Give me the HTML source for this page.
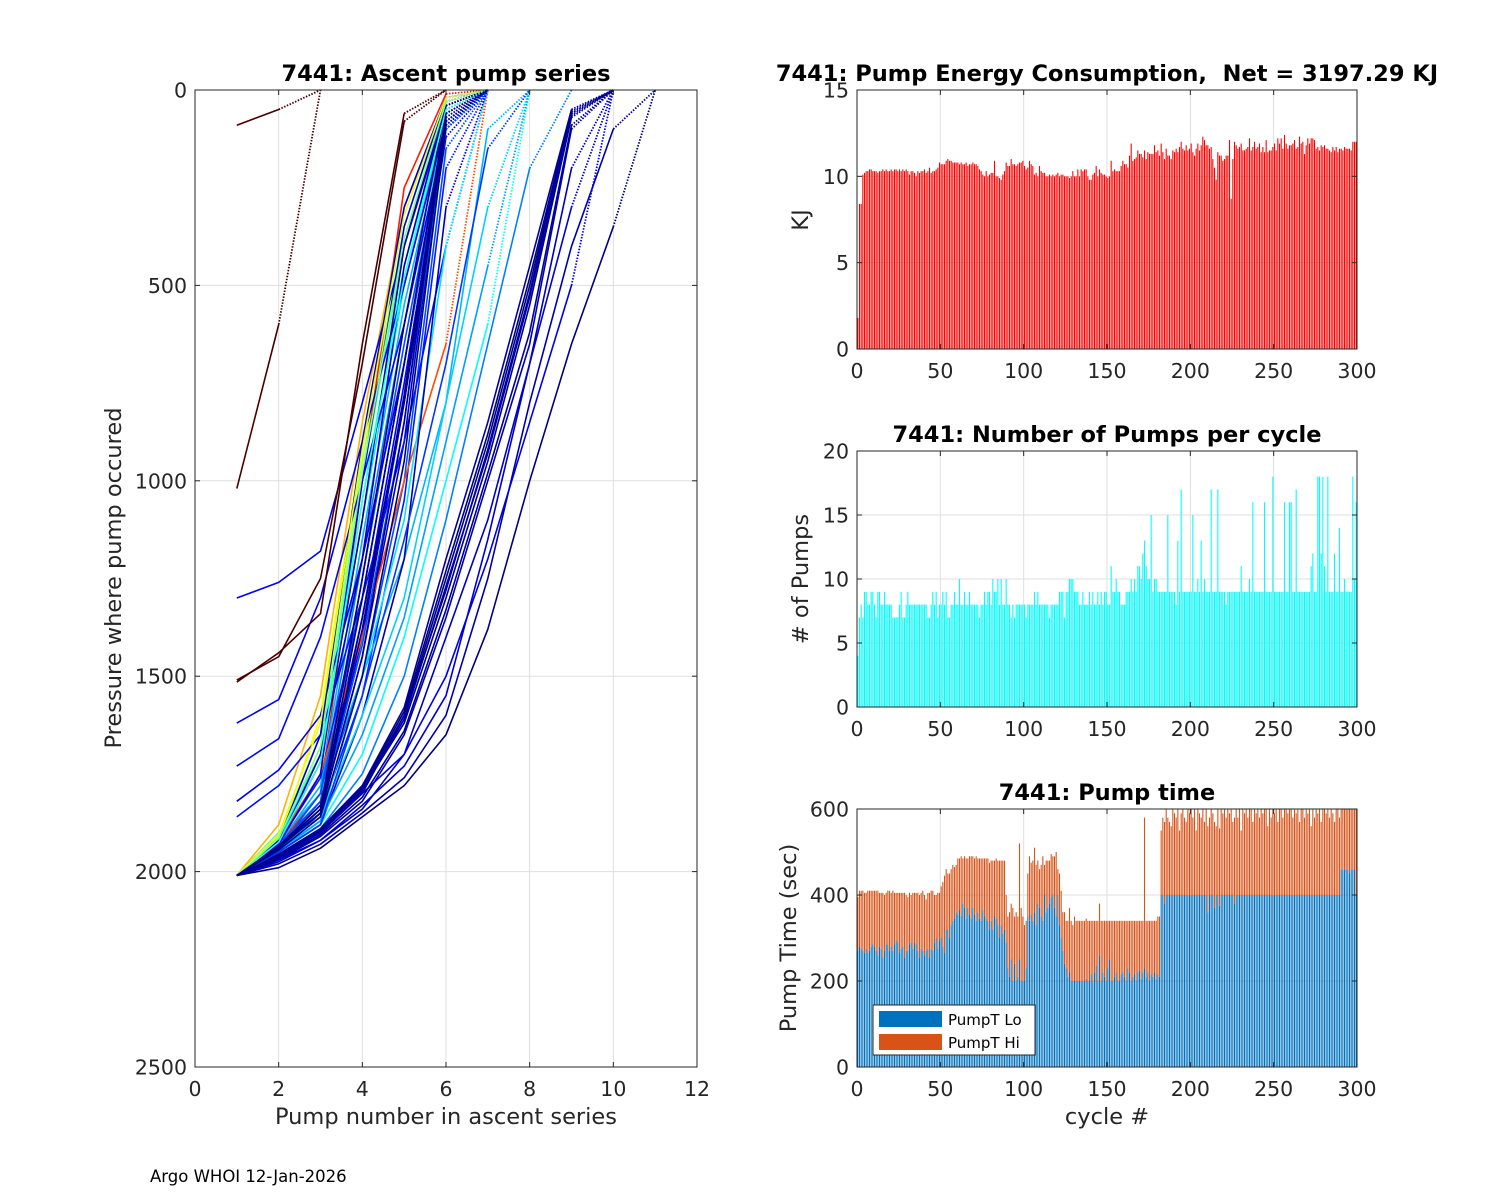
<!DOCTYPE html>
<html><head><meta charset="utf-8"><style>
html,body{margin:0;padding:0;background:#fff}
svg{display:block;font-family:"DejaVu Sans","Liberation Sans",sans-serif}
text{white-space:pre}
</style></head><body>
<svg id="fig" width="1500" height="1200" viewBox="0 0 1500 1200">
<rect x="0" y="0" width="1500" height="1200" fill="#fff"/>
<g id="ascent"></g>
<g id="energy"></g>
<g id="pumps"></g>
<g id="ptime"></g>
<text x="150" y="1182" font-size="16.5" fill="#000">Argo WHOI 12-Jan-2026</text>
</svg>
<script>
// ---------- Data ----------
const energyKJ = [
1.8,8.4,8.4,10.1,10.2,10.3,10.3,10.4,10.4,10.3,10.3,10.3,10.2,10.3,10.3,10.4,10.3,10.4,10.3,10.3,
10.4,10.3,10.4,10.4,10.3,10.4,10.3,10.4,10.3,10.4,10.3,10.1,10.3,10.3,10.2,10.0,10.3,10.2,10.3,10.3,
10.4,10.2,10.3,10.5,10.2,10.3,10.3,10.4,10.5,10.8,10.7,10.7,10.7,10.9,11.0,10.9,10.9,10.8,10.8,10.8,
10.8,10.7,10.8,10.7,10.7,10.8,10.6,10.7,10.7,10.8,10.7,10.7,10.6,10.4,10.3,10.1,10.0,10.3,10.0,10.1,
10.2,10.2,10.9,10.0,10.0,9.9,9.8,10.1,10.3,10.8,10.6,10.6,11.0,10.7,10.7,10.6,10.7,10.8,10.8,10.9,
10.6,10.4,10.5,10.9,10.7,10.6,10.1,10.2,10.0,10.6,10.3,10.2,10.2,10.0,10.0,10.1,10.0,10.1,10.0,10.1,
10.2,10.0,10.1,10.1,10.0,10.0,10.0,9.9,10.0,10.3,10.0,10.0,10.4,10.0,10.4,10.3,10.4,10.4,10.0,9.8,
9.8,10.1,10.2,10.6,10.0,10.4,10.2,10.1,10.1,10.0,9.9,10.0,10.9,10.3,10.4,10.3,10.3,10.3,10.6,10.9,
10.7,10.7,10.5,11.2,11.9,10.9,11.0,11.1,11.5,11.3,11.3,11.1,11.5,11.0,11.4,11.3,11.3,11.3,11.8,11.4,
11.5,11.2,11.9,11.4,11.0,11.6,11.2,11.2,11.0,11.5,11.4,11.6,11.4,11.7,12.0,11.6,11.5,11.8,11.5,11.6,
11.9,11.4,11.2,11.6,11.9,11.5,11.8,12.3,12.1,11.8,11.8,11.6,11.7,11.0,10.5,9.8,11.4,11.2,11.2,10.9,
11.0,11.2,11.2,12.1,8.7,11.0,12.0,11.8,11.6,11.7,11.9,11.5,11.5,11.6,11.7,12.2,11.5,11.7,12.0,11.6,
11.7,11.9,11.4,11.7,11.4,12.1,11.4,11.5,11.5,11.7,11.9,11.5,12.2,11.9,12.2,11.6,12.4,11.9,11.6,11.8,
11.8,11.9,12.1,11.6,11.7,12.3,11.9,12.0,11.3,11.8,12.2,11.9,12.2,12.2,12.1,11.6,11.7,11.5,11.8,11.7,
11.8,11.6,11.6,11.5,11.4,11.7,11.5,11.7,11.4,11.6,11.6,11.5,11.7,11.6,11.6,11.6,11.5,12.0,12.0,12.0];

const pumpCount = [
4,7,8,7,9,9,8,8,9,9,8,7,9,9,8,8,9,8,8,8,
8,7,7,7,7,8,9,7,7,8,9,8,8,8,8,8,8,8,8,8,
8,8,7,7,8,9,8,9,7,8,8,9,8,9,7,7,8,8,9,8,
8,10,8,8,9,8,8,9,8,8,8,8,8,7,8,8,9,8,9,9,
8,10,9,9,10,8,10,8,8,10,8,8,7,8,7,8,8,8,8,8,
8,7,8,8,8,8,9,8,9,8,8,8,8,8,8,7,8,8,8,8,
8,9,9,9,7,9,9,10,10,10,9,9,9,8,8,9,8,8,8,9,
8,9,8,8,9,8,9,8,9,9,8,8,11,9,9,10,9,9,8,8,
8,9,9,9,10,9,10,9,11,11,10,12,13,11,10,10,15,9,10,10,
9,9,9,9,9,9,15,9,9,9,9,8,13,9,17,9,9,9,9,9,
9,15,9,9,10,9,13,9,10,9,9,9,17,9,9,9,17,9,9,9,
9,8,9,9,9,9,9,9,9,9,11,9,9,9,9,10,9,16,9,9,
9,9,9,9,16,9,9,9,9,18,9,9,9,9,9,9,16,9,9,16,
16,9,9,17,9,9,9,9,9,9,9,9,11,12,9,9,18,18,12,18,
11,9,18,9,9,9,12,9,9,14,9,9,10,9,9,9,9,18,10,16];

const pumpTimeLo = [
270,280,275,270,265,275,265,270,280,285,280,270,260,280,275,255,270,285,285,270,
280,270,285,295,290,265,275,280,255,270,270,285,290,275,290,285,270,255,275,270,
260,270,275,255,275,270,290,300,275,295,300,280,265,320,320,300,330,340,345,360,
355,365,350,380,370,345,370,355,345,370,355,340,360,345,340,365,350,345,340,320,
340,320,350,345,330,300,330,310,320,290,230,210,250,200,240,200,210,250,200,200,
200,230,350,340,355,340,360,330,380,370,350,340,400,360,370,380,395,400,370,350,
400,330,300,270,240,230,210,220,200,200,200,200,200,200,200,200,200,205,200,200,
215,200,220,235,200,260,200,220,210,200,230,250,200,200,210,220,200,200,215,220,
210,200,230,220,200,210,215,200,220,225,205,220,230,210,220,200,215,210,220,205,
215,210,400,400,380,400,400,400,400,400,400,400,400,400,400,400,400,400,400,400,
400,400,400,400,400,400,400,400,400,400,360,400,400,400,370,400,400,375,400,400,
400,400,400,400,400,400,380,400,400,400,400,400,400,400,400,400,400,400,400,400,
400,400,400,400,400,400,400,400,400,400,400,400,400,400,400,400,400,400,400,400,
400,400,400,400,400,400,400,400,400,400,400,400,400,400,400,400,400,400,400,400,
400,400,400,400,400,400,400,400,400,400,460,460,460,460,460,450,460,460,460,400];

const pumpTimeHi = [
125,130,135,140,140,130,145,140,130,125,130,140,150,125,130,150,130,120,125,140,
125,140,120,110,115,140,130,125,150,130,125,120,110,130,115,120,135,145,130,140,
140,120,130,150,135,140,110,100,130,110,120,150,180,140,130,150,130,130,120,110,
130,120,140,105,120,140,115,135,145,120,130,150,125,140,145,120,135,140,145,155,
140,160,130,140,150,180,150,170,160,110,120,150,130,170,110,160,140,270,170,150,
130,110,100,150,120,140,150,140,100,90,120,150,70,120,110,100,100,90,120,150,
60,120,110,90,120,110,130,150,140,130,150,140,140,140,140,140,140,140,140,140,
125,140,120,105,140,120,140,120,130,140,110,90,140,140,130,120,140,140,125,120,
130,140,110,120,140,130,125,140,120,115,135,120,350,130,120,140,125,130,120,135,
135,140,150,180,190,200,180,170,160,200,190,180,200,150,190,200,180,170,200,190,
200,180,200,150,200,190,180,200,170,200,200,180,200,190,200,160,200,180,200,190,
200,180,200,190,200,170,200,200,180,200,150,200,190,200,180,200,200,170,200,190,
200,180,200,190,200,200,160,200,180,200,190,200,170,200,200,180,200,200,190,200,
200,180,200,190,200,170,200,200,180,200,190,200,160,200,180,200,190,200,170,200,
200,190,200,180,200,190,170,200,200,180,140,140,140,140,140,150,140,140,140,200];

// Ascent pump profiles: pressure at pump 1..n (last segment dotted to surface)
const profileColor = [0.45,0.55,0.62,0.7,0.85,0.4,0.35,0.3,0.25,0.2,0.15,0.12,0.1,0.08,0.2,0.15,0.38,0.25,0.8,
  0.12,0.12,0.13,0.12,0.14,0.3,
  0.05,0.03,0.1,0.08,0.2,0.35,0.2,0.0,0.02,0.03,0.05,0.06,0.0,0.04,0.08,0.1,0.01,0.02,0.0,0.03,0.05,
  0.5,0.6,0.42,0.33,0.28,0.18,0.02,0.0,0.01,0.04,0.0,0.02,
  1.0,1.0,1.0,1.0];
const profiles = [
[2010,1900,1700,1000,400,40,0],
[2010,1910,1650,950,350,30,0],
[2010,1920,1600,900,300,20,0],
[2010,1880,1550,850,300,30,0],
[2010,1930,1800,1000,250,10,0],
[2010,1920,1750,1050,450,60,0],
[2010,1920,1700,1100,500,60,0],
[2010,1930,1780,1150,550,80,0],
[2010,1940,1800,1200,600,90,0],
[2010,1930,1820,1250,650,100,0],
[2010,1925,1760,1300,700,100,0],
[2010,1935,1830,1350,750,100,0],
[2010,1940,1840,1400,800,120,0],
[2010,1945,1850,1450,900,80,0],
[2010,1940,1820,1500,1000,150,0],
[2010,1950,1850,1550,1050,200,0],
[2010,1950,1880,1700,1400,1000,600,0],
[2010,1960,1890,1750,1500,1100,650,200,0],
[2010,1920,1750,1400,1000,650,0],
[1300,1260,1180,800,400,50,0],
[1620,1560,1300,900,500,80,0],
[1730,1660,1400,1000,600,100,0],
[1820,1740,1600,1200,700,100,0],
[1860,1780,1650,1300,900,400,0],
[2010,1920,1800,1500,1200,800,100,0],
[2010,1930,1700,1200,450,40,0],
[2010,1925,1720,1100,400,30,0],
[2010,1930,1750,1000,350,20,0],
[2010,1920,1650,900,300,20,0],
[2010,1940,1800,1300,700,100,0],
[2010,1950,1870,1500,1100,400,0],
[2010,1945,1840,1420,850,100,0],
[2010,1960,1900,1800,1600,1250,900,500,60,0],
[2010,1965,1900,1790,1620,1300,950,550,70,0],
[2010,1955,1890,1780,1580,1200,850,450,50,0],
[2010,1970,1910,1820,1650,1350,1000,650,100,0],
[2010,1975,1920,1840,1700,1400,1100,700,200,0],
[2010,1990,1940,1860,1780,1650,1380,1000,650,350,0],
[2010,1980,1930,1850,1760,1600,1250,800,400,100,0],
[2010,1970,1920,1830,1730,1550,1150,700,300,0],
[2010,1960,1900,1800,1700,1500,1200,850,500,0],
[2010,1935,1850,1300,700,60,0],
[2010,1940,1860,1350,800,80,0],
[2010,1935,1840,1250,600,40,0],
[2010,1960,1895,1790,1600,1280,920,520,60,0],
[2010,1950,1880,1600,1200,300,0],
[2010,1915,1680,980,380,30,0],
[2010,1905,1620,920,320,20,0],
[2010,1925,1720,1050,480,50,0],
[2010,1940,1860,1600,1300,800,300,0],
[2010,1945,1870,1650,1350,900,450,0],
[2010,1950,1880,1550,1150,700,150,0],
[2010,1940,1850,1450,850,70,0],
[2010,1945,1860,1500,950,90,0],
[2010,1935,1830,1380,780,60,0],
[2010,1962,1898,1795,1610,1270,930,530,65,0],
[2010,1958,1895,1785,1590,1230,880,480,55,0],
[2010,1968,1905,1810,1640,1330,980,620,90,0],
[90,50,0],
[1020,600,0],
[1510,1450,1250,700,80,0],
[1515,1440,1340,650,60,0]];

// ---------- helpers ----------
const NS = "http://www.w3.org/2000/svg";
function mk(parent, tag, attrs, txt){
  const e = document.createElementNS(NS, tag);
  for (const k in attrs) e.setAttribute(k, attrs[k]);
  if (txt !== undefined) e.textContent = txt;
  parent.appendChild(e);
  return e;
}
function jet(v){
  if (v >= 1) return '#4a0000';
  const r = Math.max(0, Math.min(1, Math.min(4*v-1.5, -4*v+4.5)));
  const g = Math.max(0, Math.min(1, Math.min(4*v-0.5, -4*v+3.5)));
  const b = Math.max(0, Math.min(1, Math.min(4*v+0.5, -4*v+2.5)));
  return `rgb(${Math.round(r*255)},${Math.round(g*255)},${Math.round(b*255)})`;
}
const TXT = "#262626";
const TICK_FS = 20.5, LAB_FS = 22.5, TITLE_FS = 22.5;

function axesFrame(g, L, T, R, B, xt, yt, xs, ys, name){
  xt.forEach(v=>{ const x=xs(v); if(x>L+1&&x<R-1){
    const l=mk(g,'line',{x1:x,y1:T,x2:x,y2:B,stroke:'#dfdfdf','stroke-width':1});
    
    
  }});
  yt.forEach(v=>{ const y=ys(v); if(y>T+1&&y<B-1){
    const l=mk(g,'line',{x1:L,y1:y,x2:R,y2:y,stroke:'#dfdfdf','stroke-width':1});
    
    
  }});
}
function axesBox(g, L, T, R, B, xt, yt, xs, ys, name, xlabels, ylabels){
  const box=mk(g,'rect',{x:L,y:T,width:R-L,height:B-T,fill:'none',stroke:TXT,'stroke-width':1});
  
  
  xt.forEach((v,i)=>{ const x=xs(v);
    mk(g,'line',{x1:x,y1:B,x2:x,y2:B-5,stroke:TXT});
    mk(g,'line',{x1:x,y1:T,x2:x,y2:T+5,stroke:TXT});
    const t=mk(g,'text',{x:x,y:B+29,'font-size':TICK_FS,'text-anchor':'middle',fill:TXT},xlabels[i]);
    
    
  });
  yt.forEach((v,i)=>{ const y=ys(v);
    mk(g,'line',{x1:L,y1:y,x2:L+5,y2:y,stroke:TXT});
    mk(g,'line',{x1:R,y1:y,x2:R-5,y2:y,stroke:TXT});
    const t=mk(g,'text',{x:L-8,y:y+7.5,'font-size':TICK_FS,'text-anchor':'end',fill:TXT},ylabels[i]);
    
    
  });
}
function title(g,x,y,s,name){
  const t=mk(g,'text',{x:x,y:y,'font-size':TITLE_FS,'font-weight':'bold','text-anchor':'middle',fill:'#000'},s);
  
  
}
function ylab(g,x,y,s,name){
  const t=mk(g,'text',{x:0,y:0,'font-size':LAB_FS,'text-anchor':'middle',fill:TXT,transform:`translate(${x},${y}) rotate(-90)`},s);
  
  
}

// ---------- Ascent chart ----------
(function(){
  const g=document.getElementById('ascent');
  const L=195,R=697,T=90,B=1067;
  const xs=v=>L+(v/12)*(R-L), ys=v=>T+(v/2500)*(B-T);
  const xt=[0,2,4,6,8,10,12], yt=[0,500,1000,1500,2000,2500];
  axesFrame(g,L,T,R,B,xt,yt,xs,ys,'ascent');
  const lines=mk(g,'g',{});
  
  
  profiles.forEach((p,k)=>{
    const col=jet(profileColor[k]);
    const n=p.length;
    if(n>2){
      let d='';
      for(let i=0;i<n-1;i++) d+=(i?'L':'M')+xs(i+1).toFixed(1)+','+ys(p[i]).toFixed(1);
      const s=mk(lines,'path',{d:d,fill:'none',stroke:col,'stroke-width':1.6,'stroke-linejoin':'round'});
      
      
    }
    const dd='M'+xs(n-1).toFixed(1)+','+ys(p[n-2]).toFixed(1)+'L'+xs(n).toFixed(1)+','+ys(p[n-1]).toFixed(1);
    const s2=mk(lines,'path',{d:dd,fill:'none',stroke:col,'stroke-width':1.8,'stroke-dasharray':'1.5,1.5'});
    
    
  });
  axesBox(g,L,T,R,B,xt,yt,xs,ys,'ascent',xt.map(String),yt.map(String));
  title(g,446,81,'7441: Ascent pump series','ascent-title');
  const xl=mk(g,'text',{x:446,y:1124,'font-size':LAB_FS,'text-anchor':'middle',fill:TXT},'Pump number in ascent series');
  
  
  ylab(g,121,578,'Pressure where pump occured','ascent-y-axis-title');
})();

// ---------- bar chart helper ----------
const RL=857, RR=1357;
const cxs=v=>RL+(v/300)*(RR-RL);
const cxt=[0,50,100,150,200,250,300];
function barChart(id,T,B,ymax,yt,name){
  const g=document.getElementById(id);
  const ys=v=>B-(Math.min(v,ymax)/ymax)*(B-T);
  axesFrame(g,RL,T,RR,B,cxt,yt,cxs,ys,name);
  return {g,ys,T,B};
}
const BW=(RR-RL)/300*0.65;

// Energy
(function(){
  const c=barChart('energy',90,349,15,[0,5,10,15],'energy');
  energyKJ.forEach((v,i)=>{
    const y=c.ys(v);
    const r=mk(c.g,'rect',{x:cxs(i)+0.3,y:y,width:BW,height:349-y,fill:'#ff0000'});
    
    
  });
  axesBox(c.g,RL,90,RR,349,cxt,[0,5,10,15],cxs,c.ys,'energy',cxt.map(String),['0','5','10','15']);
  title(c.g,1107,81,'7441: Pump Energy Consumption,  Net = 3197.29 KJ','energy-title');
  ylab(c.g,808,220,'KJ','energy-y-axis-title');
})();

// Pumps per cycle
(function(){
  const c=barChart('pumps',451,707,20,[0,5,10,15,20],'pumps');
  pumpCount.forEach((v,i)=>{
    const y=c.ys(v);
    const r=mk(c.g,'rect',{x:cxs(i)+0.3,y:y,width:BW,height:707-y,fill:'#00ffff'});
    
    
  });
  axesBox(c.g,RL,451,RR,707,cxt,[0,5,10,15,20],cxs,c.ys,'pumps',cxt.map(String),['0','5','10','15','20']);
  title(c.g,1107,442,'7441: Number of Pumps per cycle','pumps-title');
  ylab(c.g,808,579,'# of Pumps','pumps-y-axis-title');
})();

// Pump time stacked
(function(){
  const c=barChart('ptime',809,1067,600,[0,200,400,600],'ptime');
  pumpTimeLo.forEach((lo,i)=>{
    const hi=pumpTimeHi[i];
    const y1=c.ys(lo), y2=c.ys(lo+hi);
    const r=mk(c.g,'rect',{x:cxs(i)+0.3,y:y1,width:BW,height:1067-y1,fill:'#0072bd'});
    
    
    const r2=mk(c.g,'rect',{x:cxs(i)+0.3,y:y2,width:BW,height:Math.max(0,y1-y2),fill:'#d95319'});
    
    
  });
  axesBox(c.g,RL,809,RR,1067,cxt,[0,200,400,600],cxs,c.ys,'ptime',cxt.map(String),['0','200','400','600']);
  title(c.g,1107,800,'7441: Pump time','ptime-title');
  ylab(c.g,796,938,'Pump Time (sec)','ptime-y-axis-title');
  const xl=mk(c.g,'text',{x:1107,y:1124,'font-size':LAB_FS,'text-anchor':'middle',fill:TXT},'cycle #');
  
  
  const lg=mk(c.g,'g',{});
  
  
  mk(lg,'rect',{x:873,y:1005,width:162,height:50,fill:'#fff',stroke:TXT,'stroke-width':1});
  mk(lg,'rect',{x:879,y:1011,width:63,height:16,fill:'#0072bd'});
  mk(lg,'rect',{x:879,y:1034,width:63,height:16,fill:'#d95319'});
  const t1=mk(lg,'text',{x:948,y:1025,'font-size':15,fill:'#000'},'PumpT Lo');
  
  
  const t2=mk(lg,'text',{x:948,y:1048,'font-size':15,fill:'#000'},'PumpT Hi');
  
  
})();
</script>
</body></html>
